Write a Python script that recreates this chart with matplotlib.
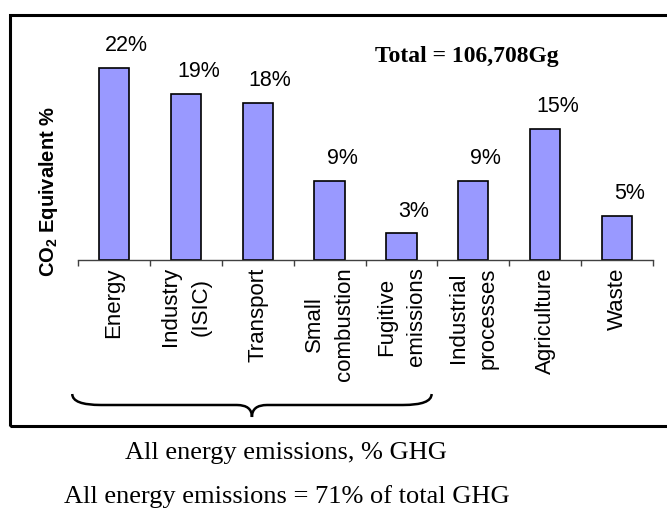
import matplotlib
matplotlib.use("Agg")
import matplotlib.pyplot as plt
import matplotlib.transforms as mtransforms
from matplotlib.path import Path
from matplotlib.patches import PathPatch, Rectangle
import numpy as np

# GHG emissions by source, % of CO2 equivalent
sectors = [
    "Energy",
    "Industry\n(ISIC)",
    "Transport",
    "Small\ncombustion",
    "Fugitive\nemissions",
    "Industrial\nprocesses",
    "Agriculture",
    "Waste",
]
shares = [22, 19, 18, 9, 3, 9, 15, 5]
share_labels = [f"{v}%" for v in shares]
energy_first, energy_last = 0, 4  # sectors grouped under the brace

total_label = "Total = 106,708Gg"
ylabel = r"CO$_\mathbf{2}$ Equivalent %"
caption = "All energy emissions, % GHG"
footnote = "All energy emissions = 71% of total GHG"

W, H = 667, 508
SANS = ["Liberation Sans", "DejaVu Sans"]
SERIF = ["Liberation Serif", "DejaVu Serif"]

plt.rcParams["font.family"] = SANS
plt.rcParams["mathtext.fontset"] = "custom"
plt.rcParams["mathtext.rm"] = "Liberation Sans"
plt.rcParams["mathtext.bf"] = "Liberation Sans:bold"


def px(x, y):
    """pixel position (from top-left) -> figure fraction"""
    return x / W, 1 - y / H


fig = plt.figure(figsize=(W / 100, H / 100), dpi=100)
fig.patch.set_facecolor("white")

# outer frame (runs off the right edge)
fx, fy = px(10, 426)
fig.patches.append(Rectangle((fx, fy), 1.2, (426 - 15) / H, fill=False,
                             lw=2.2, edgecolor="black",
                             transform=fig.transFigure, figure=fig))

left, bottom = px(78, 259.5)
ax = fig.add_axes([left, bottom, 575 / W, 218 / H])
x = np.arange(len(sectors))
ax.bar(x, shares, width=0.42, color="#9999ff", edgecolor="black", linewidth=1.2)
ax.set_xlim(-0.5, len(sectors) - 0.5)
ax.set_ylim(0, 25)

for s in ("top", "right", "left"):
    ax.spines[s].set_visible(False)
ax.spines["bottom"].set_color("#404040")
ax.spines["bottom"].set_linewidth(1.0)
ax.set_yticks([])

ax.set_xticks(x)
ax.set_xticklabels(sectors, rotation=90, fontsize=16, linespacing=1.55)
ax.set_xticks(np.arange(-0.5, len(sectors), 1), minor=True)
ax.tick_params(axis="x", which="major", length=0, pad=5.5)
ax.tick_params(axis="x", which="minor", length=4.5, width=1.0, color="#404040")

for i, (v, lbl) in enumerate(zip(shares, share_labels)):
    ax.annotate(lbl, (i, v), xytext=(9, 12), textcoords="offset points",
                ha="center", va="baseline", fontsize=15.5, annotation_clip=False)

fig.text(*px(466.5, 62), total_label, ha="center", va="baseline",
         family=SERIF, weight="bold", fontsize=17)
fig.text(*px(49, 191), ylabel, rotation=90, ha="center", va="center",
         weight="bold", fontsize=14.5)

# curly brace under the energy sectors
tr = mtransforms.blended_transform_factory(ax.transData, fig.transFigure)
x0, x1 = energy_first - 0.58, energy_last + 0.42
xc = (x0 + x1) / 2
yt, ym, yb = 1 - 394 / H, 1 - 405 / H, 1 - 417 / H
verts = [
    (x0, yt), (x0, ym), (x0 + 0.4, ym),
    (xc - 0.21, ym), (xc, ym), (xc, yb),
    (xc, ym), (xc + 0.21, ym),
    (x1 - 0.4, ym), (x1, ym), (x1, yt),
]
codes = [Path.MOVETO, Path.CURVE3, Path.CURVE3,
         Path.LINETO, Path.CURVE3, Path.CURVE3,
         Path.CURVE3, Path.CURVE3,
         Path.LINETO, Path.CURVE3, Path.CURVE3]
brace = PathPatch(Path(verts, codes), fill=False, lw=1.8, edgecolor="black",
                  transform=tr, clip_on=False)
ax.add_patch(brace)

fig.text(*px(286, 459), caption, ha="center", va="baseline",
         family=SERIF, fontsize=19)
fig.text(*px(287, 503), footnote, ha="center", va="baseline",
         family=SERIF, fontsize=19)

fig.savefig("out.png", dpi=100, facecolor="white")
